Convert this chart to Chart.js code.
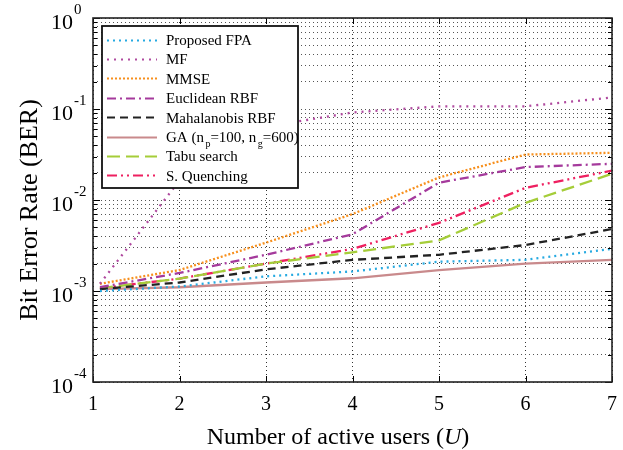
<!DOCTYPE html>
<html>
<head>
<meta charset="utf-8">
<script src="https://cdn.jsdelivr.net/npm/chart.js@4.4.0/dist/chart.umd.min.js"></script>
<style>
  html, body { margin: 0; padding: 0; background: #fff; }
  #wrap { width: 623px; height: 450px; }
</style>
</head>
<body>
<div id="wrap"><canvas id="c"></canvas></div>
<script>
// Data (BER vs number of active users)
const users      = [1.08, 2, 3, 4, 5, 6, 7];
const berFPA     = [0.00100, 0.00112, 0.00145, 0.00164, 0.0021, 0.0022, 0.0029];
const berMF      = [0.0012, 0.0164, 0.064, 0.0915, 0.107, 0.107, 0.134];
const berMMSE    = [0.0012, 0.0017, 0.0034, 0.0070, 0.0177, 0.0316, 0.033];
const berEuclid  = [0.0011, 0.00158, 0.0025, 0.0042, 0.0155, 0.023, 0.025];
const berMahal   = [0.00105, 0.00124, 0.00173, 0.0022, 0.0025, 0.0032, 0.0048];
const berGA      = [0.00105, 0.0011, 0.00124, 0.00138, 0.0017, 0.0020, 0.0022];
const berTabu    = [0.00107, 0.00137, 0.0020, 0.00266, 0.0036, 0.0093, 0.0194];
const berSQ      = [0.00107, 0.00137, 0.0020, 0.0029, 0.0056, 0.0136, 0.021];

const xTicks     = [1, 2, 3, 4, 5, 6, 7];
const yDecades   = [-4, -3, -2, -1, 0];
const yMinorMult = [2, 3, 4, 5, 6, 7, 8, 9];

const serif = "'Liberation Serif', 'Times New Roman', 'DejaVu Serif', serif";

// log grid: decades plus 2..9 multiples
const yGrid = [];
yDecades.forEach(e => {
  yGrid.push({ value: Math.pow(10, e), major: true });
  if (e < 0) yMinorMult.forEach(m => yGrid.push({ value: m * Math.pow(10, e), major: false }));
});

const toPts = arr => arr.map((v, i) => ({ x: users[i], y: v }));

const series = [
  { label: 'Proposed FPA',      data: berFPA,    color: '#27aae1', dash: [2, 4] },
  { label: 'MF',                data: berMF,     color: '#b04a9f', dash: [2, 5] },
  { label: 'MMSE',              data: berMMSE,   color: '#f7901e', dash: [2, 2] },
  { label: 'Euclidean RBF',     data: berEuclid, color: '#a53a9c', dash: [9, 4, 2, 4] },
  { label: 'Mahalanobis RBF',   data: berMahal,  color: '#222222', dash: [8, 5] },
  { label: 'GA',                data: berGA,     color: '#c98a8c', dash: [] },
  { label: 'Tabu search',       data: berTabu,   color: '#a5cd39', dash: [13, 6] },
  { label: 'S. Quenching',      data: berSQ,     color: '#ee2060', dash: [10, 4, 2, 4, 2, 4] }
];

// legend text pieces, subscripts where needed
const legendText = [
  [['Proposed FPA']],
  [['MF']],
  [['MMSE']],
  [['Euclidean RBF']],
  [['Mahalanobis RBF']],
  [['GA (n'], ['p', 'sub'], ['=100, n'], ['g', 'sub'], ['=600)']],
  [['Tabu search']],
  [['S. Quenching']]
];

const decor = {
  id: 'decor',
  afterDatasetsDraw(chart) {
    const { ctx, chartArea: a, scales: { x, y } } = chart;
    ctx.save();

    // inward tick marks
    ctx.strokeStyle = '#000';
    ctx.lineWidth = 1;
    ctx.setLineDash([]);
    y.ticks.forEach(t => {
      const py = Math.round(y.getPixelForValue(t.value)) + 0.5;
      const len = t.major ? 7 : 4;
      ctx.beginPath();
      ctx.moveTo(a.left, py); ctx.lineTo(a.left + len, py);
      ctx.moveTo(a.right, py); ctx.lineTo(a.right - len, py);
      ctx.stroke();
    });
    x.ticks.forEach(t => {
      const px = Math.round(x.getPixelForValue(t.value)) + 0.5;
      ctx.beginPath();
      ctx.moveTo(px, a.bottom); ctx.lineTo(px, a.bottom - 6);
      ctx.moveTo(px, a.top); ctx.lineTo(px, a.top + 6);
      ctx.stroke();
    });

    // frame
    ctx.lineWidth = 1.6;
    ctx.strokeStyle = '#222';
    ctx.strokeRect(a.left, a.top, a.right - a.left, a.bottom - a.top);

    // y tick labels 10^k
    ctx.fillStyle = '#000';
    ctx.textBaseline = 'alphabetic';
    yDecades.forEach(e => {
      const py = y.getPixelForValue(Math.pow(10, e));
      ctx.font = '22px ' + serif;
      ctx.textAlign = 'right';
      ctx.fillText('10', 73, py + 11);
      ctx.font = '15px ' + serif;
      ctx.textAlign = 'left';
      ctx.fillText(e === 0 ? '0' : '-' + (-e), 74, py - 4);
    });

    // y title
    ctx.save();
    ctx.translate(37, (a.top + a.bottom) / 2 + 10);
    ctx.rotate(-Math.PI / 2);
    ctx.font = '26px ' + serif;
    ctx.textAlign = 'center';
    ctx.fillText('Bit Error Rate (BER)', 0, 0);
    ctx.restore();

    // x title with italic U
    const parts = [['Number of active users (', ''], ['U', 'italic '], [')', '']];
    let total = 0;
    parts.forEach(p => { ctx.font = p[1] + '24px ' + serif; total += ctx.measureText(p[0]).width; });
    let tx = 338 - total / 2;
    ctx.textAlign = 'left';
    parts.forEach(p => {
      ctx.font = p[1] + '24px ' + serif;
      ctx.fillText(p[0], tx, 444);
      tx += ctx.measureText(p[0]).width;
    });

    // legend box
    const lx = 102, ly = 26, lw = 196, lh = 162;
    ctx.fillStyle = '#fff';
    ctx.fillRect(lx, ly, lw, lh);
    ctx.lineWidth = 1.8;
    ctx.strokeStyle = '#111';
    ctx.strokeRect(lx, ly, lw, lh);

    series.forEach((s, i) => {
      const cy = 39.5 + i * 19.4;
      ctx.setLineDash(s.dash);
      ctx.strokeStyle = s.color;
      ctx.lineWidth = 2.2;
      ctx.beginPath();
      ctx.moveTo(107, Math.round(cy) + 0.5);
      ctx.lineTo(157, Math.round(cy) + 0.5);
      ctx.stroke();
      ctx.setLineDash([]);
      ctx.fillStyle = '#000';
      let px = 166;
      legendText[i].forEach(seg => {
        if (seg[1] === 'sub') {
          ctx.font = '10px ' + serif;
          px += 1.5;
          ctx.fillText(seg[0], px, cy + 10);
          px += ctx.measureText(seg[0]).width;
        } else {
          ctx.font = '15px ' + serif;
          ctx.fillText(seg[0], px, cy + 5.5);
          px += ctx.measureText(seg[0]).width;
        }
      });
    });

    ctx.restore();
  }
};

new Chart(document.getElementById('c'), {
  type: 'line',
  data: {
    datasets: series.map(s => ({
      label: s.label,
      data: toPts(s.data),
      borderColor: s.color,
      backgroundColor: s.color,
      borderDash: s.dash,
      borderWidth: 2.3,
      pointRadius: 0,
      tension: 0,
      fill: false
    }))
  },
  options: {
    responsive: true,
    maintainAspectRatio: false,
    animation: false,
    layout: { padding: { top: 18, right: 11, left: 0, bottom: 0 } },
    plugins: {
      legend: { display: false },
      tooltip: { enabled: false }
    },
    scales: {
      x: {
        type: 'linear',
        min: 1,
        max: 7,
        afterBuildTicks: s => { s.ticks = xTicks.map(v => ({ value: v })); },
        afterFit: s => { s.height = 68; s.paddingLeft = 0; s.paddingRight = 0; },
        grid: { color: '#333', lineWidth: 1, drawTicks: false },
        border: { display: false, dash: [1, 3] },
        ticks: {
          color: '#000',
          padding: 11,
          font: { family: serif, size: 20 },
          maxRotation: 0,
          autoSkip: false
        }
      },
      y: {
        type: 'logarithmic',
        min: 1e-4,
        max: 1,
        afterBuildTicks: s => { s.ticks = yGrid.map(t => ({ value: t.value, major: t.major })); },
        afterFit: s => { s.width = 93; },
        grid: { color: '#555', lineWidth: 1, drawTicks: false },
        border: { display: false, dash: [1, 3] },
        ticks: { display: false }
      }
    }
  },
  plugins: [decor]
});
</script>
</body>
</html>
